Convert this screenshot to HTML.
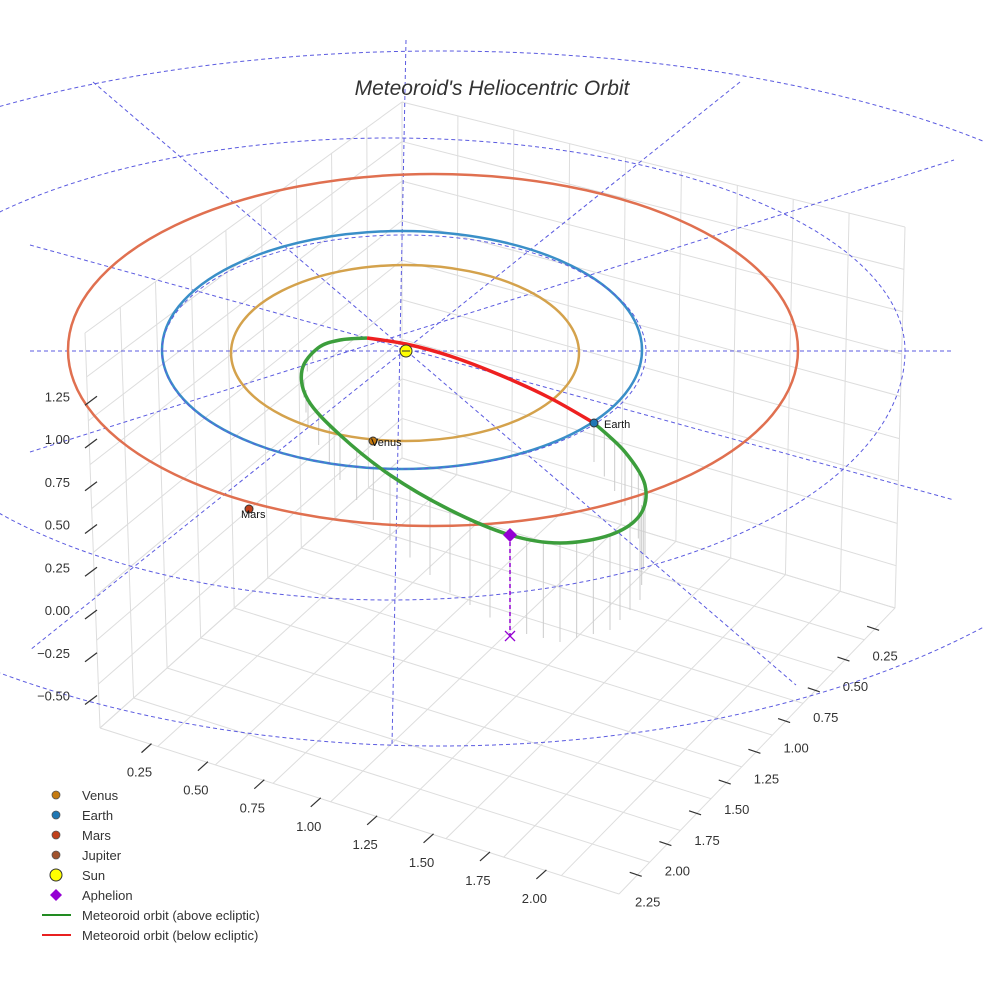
<!DOCTYPE html>
<html><head><meta charset="utf-8"><style>
body{margin:0;background:#fff}
svg{display:block;font-family:"Liberation Sans",sans-serif}
</style></head><body>
<svg id="c" width="984" height="984" viewBox="0 0 984 984">
<g id="grid"></g>
<g id="drops"></g>
<g id="refs"></g>
<g id="orbits"></g>
<g id="marks"></g>
<g id="axes"></g>
<text x="492" y="95" text-anchor="middle" font-size="21" font-style="italic" fill="#333">Meteoroid's Heliocentric Orbit</text>
<g id="legend"></g>
</svg>
<script>
const NS="http://www.w3.org/2000/svg";
function mk(p,t,a){const e=document.createElementNS(NS,t);for(const k in a)e.setAttribute(k,a[k]);p.appendChild(e);return e;}
const G=id=>document.getElementById(id);

// data
const zTicks=[1.25,1.00,0.75,0.50,0.25,0.00,-0.25,-0.50];
const xTicks=[0.25,0.50,0.75,1.00,1.25,1.50,1.75,2.00];
const yTicks=[0.25,0.50,0.75,1.00,1.25,1.50,1.75,2.00,2.25];
const planetNames=["Venus","Earth","Mars"];
const planetA=[0.723,1.0,1.524];
const planetColors=["#d4a24c","#3a8fc8","#e07050"];
const meteorAbove=[[594,423],[625,452],[645,485],[640,515],[610,535],[560,543],[510,535],[450,510],[390,475],[340,435],[308,400],[302,370],[318,348],[340,340],[367,338]];
const meteorBelow=[[367,338],[406,344],[450,356],[500,375],[550,398],[594,423]];

const SUN=[406,351];
const zScr=v=>610-v*171;
const L=[100,728],F=[619,894],R=[895,608],B=[402,458];
const TL=[85,333],TB=[402,102],TR=[905,227];
const lerp=(a,b,t)=>[a[0]+(b[0]-a[0])*t,a[1]+(b[1]-a[1])*t];
function line(p,a,b,st,w,extra){const e=mk(p,"line",{x1:a[0],y1:a[1],x2:b[0],y2:b[1],stroke:st,"stroke-width":w});if(extra)for(const k in extra)e.setAttribute(k,extra[k]);return e;}

// grid
const g=G("grid");
for(let i=0;i<=9;i++){const t=i/9;
 line(g,lerp(L,B,t),lerp(F,R,t),"#ddd",1);
 line(g,lerp(L,F,t),lerp(B,R,t),"#ddd",1);
 line(g,lerp(L,B,t),lerp(TL,TB,t),"#ddd",1);
 line(g,lerp(B,R,t),lerp(TB,TR,t),"#ddd",1);
 line(g,lerp(L,TL,t),lerp(B,TB,t),"#ddd",1);
 line(g,lerp(B,TB,t),lerp(R,TR,t),"#ddd",1);
}

// reference dashed lines
const rf=G("refs");const dash={"stroke-dasharray":"4,3"};
[[[30,351],[954,351]],[[406,40],[392,745]],[[93,82],[796,685]],[[740,82],[30,650]],[[30,245],[954,500]],[[30,452],[954,160]]].forEach(s=>{line(rf,s[0],s[1],"#5b5be0",1,dash);});
function ring(cx,cy,rx,ryT,ryB){return `M${cx-rx},${cy} A${rx},${ryT} 0 0 1 ${cx+rx},${cy} A${rx},${ryB} 0 0 1 ${cx-rx},${cy}`;}
mk(rf,"path",{d:ring(390,351,515,213,249),fill:"none",stroke:"#5b5be0","stroke-width":1,"stroke-dasharray":"4,3"});
mk(rf,"path",{d:ring(440,351,760,300,395),fill:"none",stroke:"#5b5be0","stroke-width":1,"stroke-dasharray":"4,3"});

function smooth(pts){let d="M"+pts[0].join(",");for(let i=0;i<pts.length-1;i++){const p0=pts[Math.max(0,i-1)],p1=pts[i],p2=pts[i+1],p3=pts[Math.min(pts.length-1,i+2)];
 d+=` C${p1[0]+(p2[0]-p0[0])/6},${p1[1]+(p2[1]-p0[1])/6} ${p2[0]-(p3[0]-p1[0])/6},${p2[1]-(p3[1]-p1[1])/6} ${p2[0]},${p2[1]}`;}return d;}

// drop lines
const dr=G("drops");
for(let i=0;i<meteorAbove.length-1;i++){const a=meteorAbove[i],b=meteorAbove[i+1];
 for(let k=0;k<3;k++){const p=lerp(a,b,k/3);const len=Math.max(0,(p[1]-345)*0.5);if(len>5)line(dr,p,[p[0],p[1]+len],"#ccc",1);}}

// planet orbits
const ob=G("orbits");
const oc=[[405,353,174,88],[402,350,240,119],[433,350,365,176]];
planetA.forEach((a,i)=>{
 const e=mk(ob,"ellipse",{cx:oc[i][0],cy:oc[i][1],rx:oc[i][2]*a/planetA[i],ry:oc[i][3]*a/planetA[i],fill:"none",stroke:planetColors[i],"stroke-width":2.5});
 
 
});
mk(ob,"ellipse",{cx:404,cy:352,rx:242,ry:117,fill:"none",stroke:"#5b5be0","stroke-width":1,"stroke-dasharray":"4,3"});
const pa=mk(ob,"path",{d:smooth(meteorAbove),fill:"none",stroke:"#3c9e3c","stroke-width":3.5});


const pb=mk(ob,"path",{d:smooth(meteorBelow),fill:"none",stroke:"#ee2020","stroke-width":3.5});



// markers
const mrk=G("marks");
const pos=[[373,441],[594,423],[249,509]];
const dotC=["#c57a10","#1f77b4","#c0401a"];
planetNames.forEach((n,i)=>{
 const c=mk(mrk,"circle",{cx:pos[i][0],cy:pos[i][1],r:4,fill:dotC[i],stroke:"#333","stroke-width":1});
 
 
 const t=mk(mrk,"text",{x:pos[i][0]+(i==1?10:(i==2?-8:-2)),y:pos[i][1]+(i==2?9:5),"font-size":11,fill:"#111"});t.textContent=n;
});
mk(mrk,"circle",{cx:406,cy:351,r:6,fill:"#ffff00",stroke:"#333","stroke-width":1});
mk(mrk,"line",{x1:402,y1:351,x2:410,y2:351,stroke:"#333"});
line(mrk,[510,535],[510,636],"#9400d3",1.5,dash);
mk(mrk,"polygon",{points:"510,528 517,535 510,542 503,535",fill:"#9400d3"});
line(mrk,[505,631],[515,641],"#9400d3",1.3);line(mrk,[515,631],[505,641],"#9400d3",1.3);

// axes
const ax=G("axes");
zTicks.forEach(v=>{const y=zScr(v);line(ax,[85,y+9],[97,y],"#333",1.2);const t=mk(ax,"text",{x:70,y:y+5,"text-anchor":"end","font-size":13,fill:"#333"});t.textContent=v.toFixed(2).replace("-","−");});
xTicks.forEach((v,i)=>{const p=lerp(L,F,(i+0.7)/9.2);line(ax,[p[0]+2,p[1]+12],[p[0]+12,p[1]+3],"#333",1.2);const t=mk(ax,"text",{x:p[0],y:p[1]+36,"text-anchor":"middle","font-size":13,fill:"#333"});t.textContent=v.toFixed(2);});
yTicks.forEach((v,i)=>{const p=lerp(R,F,(i+0.4)/9.3);line(ax,[p[0]-16,p[1]+6],[p[0]-4,p[1]+10],"#333",1.2);const t=mk(ax,"text",{x:p[0]+2,y:p[1]+40,"text-anchor":"middle","font-size":13,fill:"#333"});t.textContent=v.toFixed(2);});

// legend
const lg=G("legend");
const legNames=["Venus","Earth","Mars","Jupiter","Sun","Aphelion","Meteoroid orbit (above ecliptic)","Meteoroid orbit (below ecliptic)"];
const legColors=["#c57a10","#1f77b4","#c0401a","#a0522d","#ffff00","#9400d3","#228b22","#e82020"];
legNames.forEach((n,i)=>{const y=795+i*20;
 const gg=mk(lg,"g",{});
 
 
 if(i<4)mk(gg,"circle",{cx:56,cy:y,r:4,fill:legColors[i],stroke:"#555","stroke-width":0.8});
 else if(i==4)mk(gg,"circle",{cx:56,cy:y,r:6,fill:legColors[i],stroke:"#333","stroke-width":1});
 else if(i==5)mk(gg,"polygon",{points:`56,${y-6} 62,${y} 56,${y+6} 50,${y}`,fill:legColors[i]});
 else mk(gg,"line",{x1:42,y1:y,x2:71,y2:y,stroke:legColors[i],"stroke-width":2});
 const t=mk(gg,"text",{x:82,y:y+5,"font-size":13,fill:"#333"});t.textContent=n;
});
</script>
</body></html>
